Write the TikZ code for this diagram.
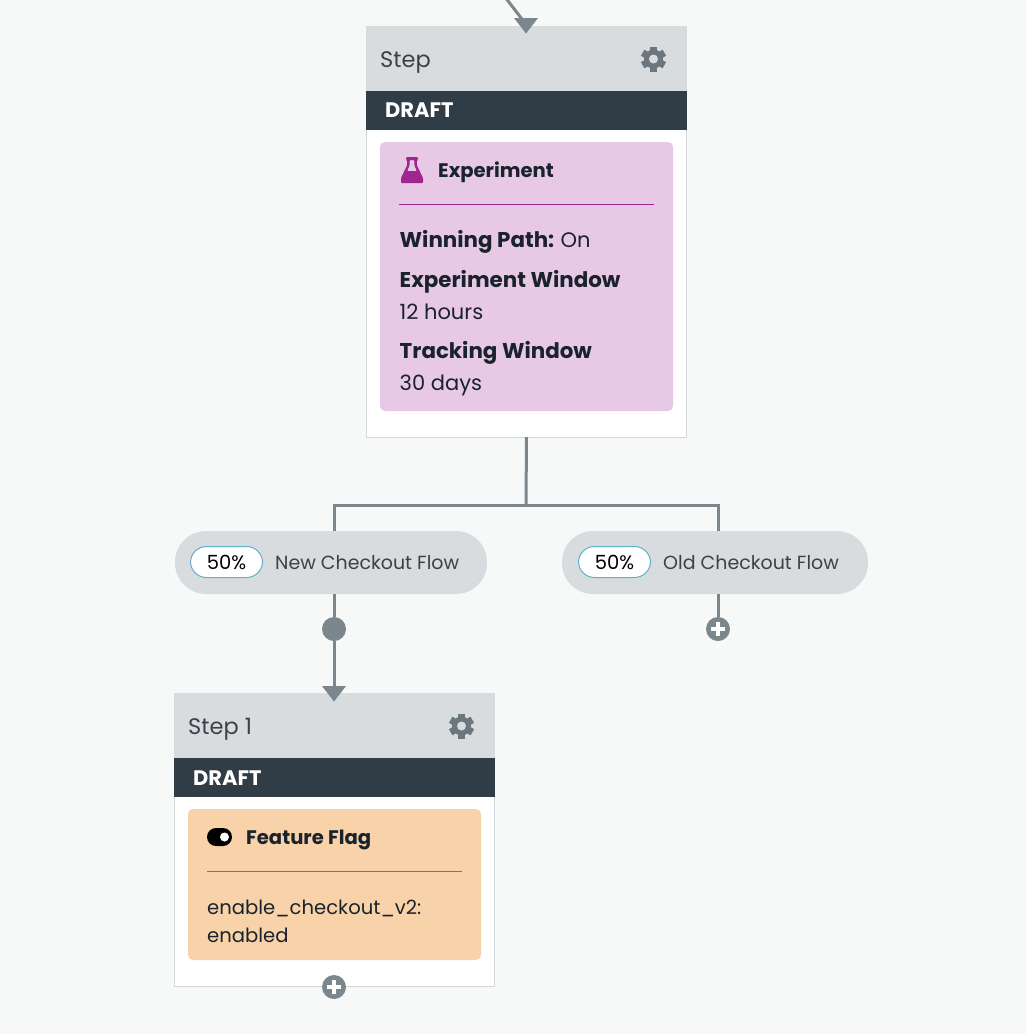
\documentclass[tikz,border=0pt]{standalone}
\usepackage{fontspec}
\setmainfont{Poppins}
\usetikzlibrary{positioning}

\definecolor{pagecol}{HTML}{F7F9F9}
\definecolor{headcol}{HTML}{D9DCDE}
\definecolor{draftcol}{HTML}{303C46}
\definecolor{linecol}{HTML}{7B868D}
\definecolor{cardedge}{HTML}{D3D8DB}
\definecolor{gearcol}{HTML}{6B767D}
\definecolor{expcol}{HTML}{E7C9E6}
\definecolor{expdark}{HTML}{A0268F}
\definecolor{flagcol}{HTML}{F8D3AA}
\definecolor{flagrule}{HTML}{5E7F8C}
\definecolor{inkcol}{HTML}{1A222C}
\definecolor{softink}{HTML}{3B4147}
\definecolor{pctedge}{HTML}{5FB1C6}

\begin{document}
\begin{tikzpicture}[
x=1pt, y=-1pt,
boxnode/.style={rectangle, inner sep=0pt, outer sep=0pt},
cardnode/.style={boxnode, draw=cardedge, fill=white, line width=1pt, minimum width=320pt},
headnode/.style={boxnode, fill=headcol, minimum width=321pt, minimum height=65pt},
draftnode/.style={boxnode, fill=draftcol, minimum width=321pt, minimum height=39pt},
panelnode/.style={boxnode, rounded corners=5pt, minimum width=293pt},
pillnode/.style={boxnode, fill=headcol, rounded corners=31pt, minimum height=63pt},
pctnode/.style={boxnode, draw=pctedge, fill=white, line width=1pt, rounded corners=16pt, minimum width=72pt, minimum height=31pt, font=\fontsize{19.5}{24}\selectfont, text=black},
dotnode/.style={circle, fill=linecol, inner sep=0pt, minimum size=24pt},
plusnode/.style={dotnode, path picture={
  \draw[white, line width=4.5pt] ([xshift=-7pt]path picture bounding box.center) -- ([xshift=7pt]path picture bounding box.center);
  \draw[white, line width=4.5pt] ([yshift=-7pt]path picture bounding box.center) -- ([yshift=7pt]path picture bounding box.center);}},
plaintext/.style={anchor=base west, inner sep=0pt, text=inkcol, font=\fontsize{21}{26}\selectfont},
boldtext/.style={plaintext, font=\fontsize{21.4}{26}\selectfont\bfseries},
paneltitle/.style={plaintext, font=\fontsize{19.6}{24}\selectfont\bfseries},
flagtext/.style={plaintext, font=\fontsize{19.6}{24}\selectfont},
titletext/.style={plaintext, text=softink, font=\fontsize{22.5}{28}\selectfont},
pilltext/.style={plaintext, text=softink, font=\fontsize{19}{24}\selectfont},
drafttext/.style={plaintext, text=white, font=\fontsize{21}{24}\selectfont\bfseries},
flowline/.style={draw=linecol, line width=3pt},
headtip/.pic={\fill[linecol] (-12,0) -- (12,0) -- (0,15.5) -- cycle;},
gearicon/.pic={
  \foreach \ang in {0,60,120} {\fill[gearcol, rotate=\ang] (-3.5,-12.5) rectangle (3.5,12.5);}
  \fill[gearcol] (0,0) circle (9.5);
  \fill[headcol] (0,0) circle (4.5);},
flaskicon/.pic={
  \fill[expdark, even odd rule, rounded corners=1pt] (-6,-13) -- (6,-13) -- (6,-10) -- (4.8,-10) -- (4.8,-5) -- (11,8) -- (11,13) -- (-11,13) -- (-11,8) -- (-4.8,-5) -- (-4.8,-10) -- (-6,-10) -- cycle
    (-2.4,-10) -- (2.4,-10) -- (2.4,-4.5) -- (5,1) -- (-5,1) -- (-2.4,-4.5) -- cycle;},
toggleicon/.pic={
  \fill[black, rounded corners=9pt] (-12.5,-9) rectangle (12.5,9);
  \fill[white] (5,0) circle (4.5);},
]

% Page background, also fixes the margins
\fill[pagecol] (0,0) rectangle (1026,1034);
\useasboundingbox (0,0) rectangle (1026,1034);

% Upper step
\node[cardnode, minimum height=411pt] (stepcard) at (526.5,231.5) {};
\node[headnode]  (stephead)  at (526.5,58.5)  {};
\node[draftnode] (stepdraft) at (526.5,110.5) {};
\node[panelnode, fill=expcol, minimum height=269pt] (exppanel) at (526.5,276.5) {};
\node[titletext] (steptitle) at (380,67)  {Step};
\node[drafttext] (stepstate) at (385,117) {DRAFT};
\pic at (653.5,59) {gearicon};

% Experiment panel
\pic at (412,170) {flaskicon};
\node[paneltitle] (exptitle)  at (438,177) {Experiment};
\node[boxnode, fill=expdark, minimum width=255pt, minimum height=1pt] (exprule) at (526.5,204.5) {};
\node[boldtext]  (winlabel)   at (399.5,247) {Winning Path:};
\node[plaintext] (winvalue)   [right=6pt of winlabel.base east, anchor=base west] {On};
\node[boldtext]  (winlength)  at (399.5,287) {Experiment Window};
\node[plaintext] (hourstext)  at (399.5,319) {12 hours};
\node[boldtext]  (tracklabel) at (399.5,358) {Tracking Window};
\node[plaintext] (daystext)   at (399.5,390) {30 days};

% Branch pills
\node[pillnode, minimum width=312pt] (pillnew) at (331,562.5) {};
\node[pillnode, minimum width=306pt] (pillold) at (715,562.5) {};
\node[pctnode]  (pctnew)  at (226.5,562) {50\%};
\node[pctnode]  (pctold)  at (614.5,562) {50\%};
\node[pilltext] (namenew) at (275,569) {New Checkout Flow};
\node[pilltext] (nameold) at (663,569) {Old Checkout Flow};

% Lower step
\node[cardnode, minimum height=293pt] (flagcard) at (334.5,839.5) {};
\node[headnode]  (flaghead)  at (334.5,725.5) {};
\node[draftnode] (flagdraft) at (334.5,777.5) {};
\node[panelnode, fill=flagcol, minimum height=151pt] (flagpanel) at (334.5,884.5) {};
\node[titletext] (flagstep)  at (188,734) {Step 1};
\node[drafttext] (flagstate) at (193,785) {DRAFT};
\pic at (461.5,726) {gearicon};

% Feature flag panel
\pic at (219.5,837) {toggleicon};
\node[paneltitle] (flagtitle) at (246,844) {Feature Flag};
\node[boxnode, fill=flagrule, minimum width=255pt, minimum height=1pt] (flagrule) at (334.5,871.5) {};
\node[flagtext] (flagkey)   at (207,914) {enable\_checkout\_v2:};
\node[flagtext] (flagvalue) at (207,942) {enabled};

% Dots and plus buttons
\node[dotnode]  (dotnew)  at (334,629) {};
\node[plusnode] (plusold) at (718,629) {};
\node[plusnode] (plusend) at (334,987) {};

% Connector ends
\coordinate (intop)  at (505,-3);
\coordinate (endtop) at (525,23);
\coordinate (tiptop) at (526,18);
\coordinate (tipnew) at (334,686);
\coordinate (joint)  at (526,505);

\draw[flowline] (intop) -- (endtop);
\draw[flowline] (stepcard.south) -- (joint);
\draw[flowline] (dotnew |- pillnew.north) |- (joint) -| (plusold |- pillold.north);
\draw[flowline] (dotnew |- pillnew.south) -- (dotnew);
\draw[flowline] (plusold |- pillold.south) -- (plusold);
\draw[flowline] (dotnew) -- (tipnew);
\pic at (tiptop) {headtip};
\pic at (tipnew) {headtip};
\end{tikzpicture}
\end{document}
